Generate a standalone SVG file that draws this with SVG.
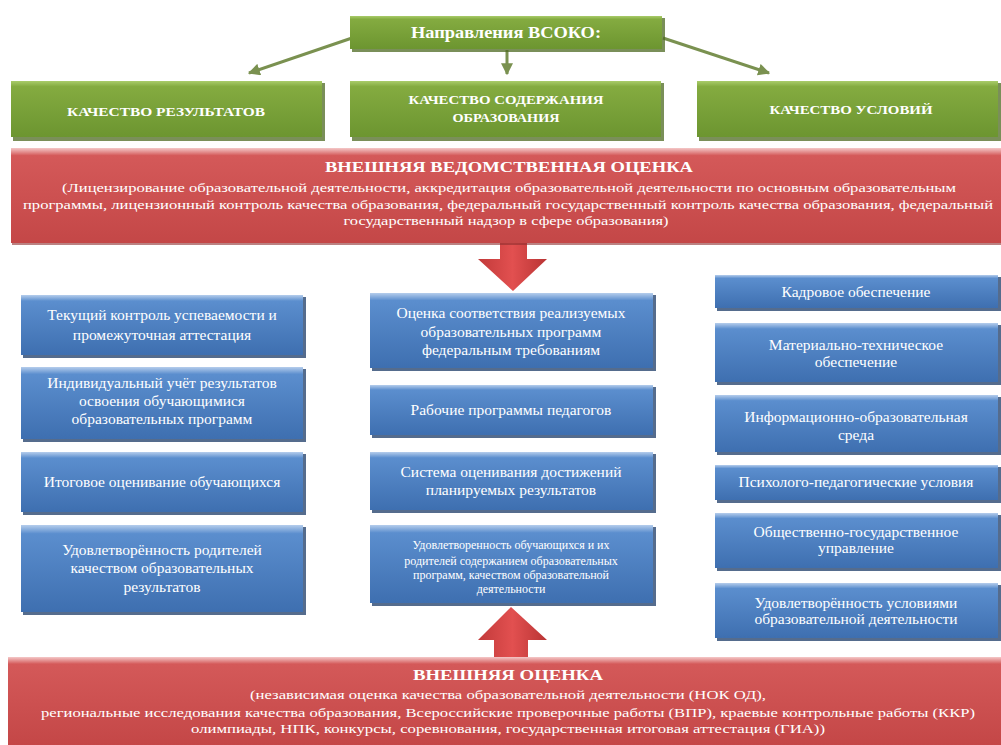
<svg xmlns="http://www.w3.org/2000/svg" width="1001" height="745" viewBox="0 0 1001 745">
<defs>
<linearGradient id="gGreen" x1="0" y1="0" x2="0" y2="1">
<stop offset="0" stop-color="#a9cc6a"/><stop offset="0.1" stop-color="#84ab40"/><stop offset="1" stop-color="#6c9530"/>
</linearGradient>
<linearGradient id="gBlue" x1="0" y1="0" x2="0" y2="1">
<stop offset="0" stop-color="#b5cdec"/><stop offset="0.1" stop-color="#5b8ece"/><stop offset="1" stop-color="#3e6fb0"/>
</linearGradient>
<linearGradient id="gRed" x1="0" y1="0" x2="0" y2="1">
<stop offset="0" stop-color="#f4c8c8"/><stop offset="0.08" stop-color="#d45959"/><stop offset="1" stop-color="#c44747"/>
</linearGradient>
<linearGradient id="gArrow" x1="0" y1="0" x2="1" y2="0">
<stop offset="0" stop-color="#c23a3a"/><stop offset="0.5" stop-color="#e25050"/><stop offset="1" stop-color="#b93434"/>
</linearGradient>
<marker id="ah" viewBox="0 0 10 10" refX="9" refY="5" markerWidth="4" markerHeight="4" orient="auto">
<path d="M0,0 L10,5 L0,10 z" fill="#7a9150"/>
</marker>
</defs>
<style>
.gshadow{fill:#4d6a22;opacity:0.75}
.bshadow{fill:#2a4770;opacity:0.8}
.rshadow{fill:#8e2e2e;opacity:0.6}
.green{fill:url(#gGreen)}
.blue{fill:url(#gBlue)}
.red{fill:url(#gRed)}
.conn{stroke:#7a9150;stroke-width:3;fill:none;marker-end:url(#ah)}
.gt{font-size:12px;font-weight:bold}
.ht{font-size:16px;font-weight:bold}
.rt{font-size:14px;font-weight:bold}
.rb{font-size:12px}
.bt{font-size:15.5px}
.bs{font-size:12px}
</style>
<rect width="1001" height="745" fill="#ffffff"/>

<g id="connectors">
<line class="conn" x1="352" y1="38" x2="249" y2="73"/>
<line class="conn" x1="507" y1="50" x2="507" y2="74"/>
<line class="conn" x1="663" y1="38" x2="769" y2="73"/>
<path d="M500,240 L527,240 L527,259 L547,259 L513,291 L478,259 L500,259 Z" fill="url(#gArrow)"/>
<path d="M494,660 L528,660 L528,640 L547,640 L511,607 L478,640 L494,640 Z" fill="url(#gArrow)"/>
</g>

<g font-family="'Liberation Serif', 'DejaVu Serif', serif" fill="#ffffff" text-anchor="middle">
<g id="n-top">
<rect class="gshadow" x="352" y="18" width="313" height="34"/>
<rect class="green" x="350" y="16" width="312" height="33"/>
<text class="ht" x="506" y="38" textLength="190" lengthAdjust="spacingAndGlyphs">Направления ВСОКО:</text>
</g>

<g id="n-res">
<rect class="gshadow" x="13" y="83" width="312" height="58"/>
<rect class="green" x="11" y="81" width="311" height="56"/>
<text class="gt" x="166" y="116" textLength="198" lengthAdjust="spacingAndGlyphs">КАЧЕСТВО РЕЗУЛЬТАТОВ</text>
</g>
<g id="n-content">
<rect class="gshadow" x="352" y="83" width="312" height="58"/>
<rect class="green" x="350" y="81" width="311" height="56"/>
<text class="gt" x="506" y="104" textLength="195" lengthAdjust="spacingAndGlyphs">КАЧЕСТВО СОДЕРЖАНИЯ</text>
<text class="gt" x="506" y="122" textLength="107" lengthAdjust="spacingAndGlyphs">ОБРАЗОВАНИЯ</text>
</g>
<g id="n-cond">
<rect class="gshadow" x="699" y="83" width="302" height="58"/>
<rect class="green" x="697" y="81" width="301" height="56"/>
<text class="gt" x="851" y="114" textLength="163" lengthAdjust="spacingAndGlyphs">КАЧЕСТВО УСЛОВИЙ</text>
</g>

<g id="n-ext-dept">
<rect class="rshadow" x="12" y="150" width="989" height="95"/>
<rect class="red" x="11" y="148" width="990" height="95"/>
<text class="rt" x="509" y="172" textLength="368" lengthAdjust="spacingAndGlyphs">ВНЕШНЯЯ ВЕДОМСТВЕННАЯ ОЦЕНКА</text>
<text class="rb" x="509" y="192" textLength="894" lengthAdjust="spacingAndGlyphs">(Лицензирование образовательной деятельности, аккредитация образовательной деятельности по основным образовательным</text>
<text class="rb" x="508" y="209" textLength="970" lengthAdjust="spacingAndGlyphs">программы, лицензионный контроль качества образования, федеральный государственный контроль качества образования, федеральный</text>
<text class="rb" x="506" y="225" textLength="325" lengthAdjust="spacingAndGlyphs">государственный надзор в сфере образования)</text>
</g>

<g id="l1">
<rect class="bshadow" x="23" y="297" width="283" height="61"/>
<rect class="blue" x="21" y="295" width="282" height="60"/>
<text class="bt" x="162" y="320">Текущий контроль успеваемости и</text>
<text class="bt" x="162" y="340">промежуточная аттестация</text>
</g>
<g id="l2">
<rect class="bshadow" x="23" y="369" width="283" height="73"/>
<rect class="blue" x="21" y="367" width="282" height="72"/>
<text class="bt" x="162" y="388">Индивидуальный учёт результатов</text>
<text class="bt" x="162" y="406">освоения обучающимися</text>
<text class="bt" x="162" y="424">образовательных программ</text>
</g>
<g id="l3">
<rect class="bshadow" x="23" y="454" width="283" height="61"/>
<rect class="blue" x="21" y="452" width="282" height="60"/>
<text class="bt" x="162" y="487">Итоговое оценивание обучающихся</text>
</g>
<g id="l4">
<rect class="bshadow" x="23" y="527" width="283" height="88"/>
<rect class="blue" x="21" y="525" width="282" height="87"/>
<text class="bt" x="162" y="555">Удовлетворённость родителей</text>
<text class="bt" x="162" y="573">качеством образовательных</text>
<text class="bt" x="162" y="592">результатов</text>
</g>

<g id="m1">
<rect class="bshadow" x="372" y="295" width="284" height="76"/>
<rect class="blue" x="370" y="293" width="283" height="75"/>
<text class="bt" x="511" y="318">Оценка соответствия реализуемых</text>
<text class="bt" x="511" y="337">образовательных программ</text>
<text class="bt" x="511" y="355">федеральным требованиям</text>
</g>
<g id="m2">
<rect class="bshadow" x="372" y="387" width="284" height="51"/>
<rect class="blue" x="370" y="385" width="283" height="50"/>
<text class="bt" x="511" y="415">Рабочие программы педагогов</text>
</g>
<g id="m3">
<rect class="bshadow" x="372" y="454" width="284" height="59"/>
<rect class="blue" x="370" y="452" width="283" height="58"/>
<text class="bt" x="511" y="477">Система оценивания достижений</text>
<text class="bt" x="511" y="495">планируемых результатов</text>
</g>
<g id="m4">
<rect class="bshadow" x="372" y="527" width="284" height="79"/>
<rect class="blue" x="370" y="525" width="283" height="78"/>
<text class="bs" x="511" y="549">Удовлетворенность обучающихся и их</text>
<text class="bs" x="511" y="565">родителей содержанием образовательных</text>
<text class="bs" x="511" y="579">программ, качеством образовательной</text>
<text class="bs" x="511" y="593">деятельности</text>
</g>

<g id="r1">
<rect class="bshadow" x="717" y="277" width="284" height="34"/>
<rect class="blue" x="715" y="275" width="283" height="33"/>
<text class="bt" x="856" y="297">Кадровое обеспечение</text>
</g>
<g id="r2">
<rect class="bshadow" x="717" y="325" width="284" height="60"/>
<rect class="blue" x="715" y="323" width="283" height="59"/>
<text class="bt" x="856" y="350">Материально-техническое</text>
<text class="bt" x="856" y="367">обеспечение</text>
</g>
<g id="r3">
<rect class="bshadow" x="717" y="397" width="284" height="58"/>
<rect class="blue" x="715" y="395" width="283" height="57"/>
<text class="bt" x="856" y="422">Информационно-образовательная</text>
<text class="bt" x="856" y="440">среда</text>
</g>
<g id="r4">
<rect class="bshadow" x="717" y="467" width="284" height="36"/>
<rect class="blue" x="715" y="465" width="283" height="35"/>
<text class="bt" x="856" y="487">Психолого-педагогические условия</text>
</g>
<g id="r5">
<rect class="bshadow" x="717" y="515" width="284" height="56"/>
<rect class="blue" x="715" y="513" width="283" height="55"/>
<text class="bt" x="856" y="537">Общественно-государственное</text>
<text class="bt" x="856" y="553">управление</text>
</g>
<g id="r6">
<rect class="bshadow" x="717" y="585" width="284" height="56"/>
<rect class="blue" x="715" y="583" width="283" height="55"/>
<text class="bt" x="856" y="608">Удовлетворённость условиями</text>
<text class="bt" x="856" y="624">образовательной деятельности</text>
</g>

<g id="n-ext">
<rect class="red" x="8" y="657" width="993" height="88"/>
<text class="rt" x="508" y="680" textLength="190" lengthAdjust="spacingAndGlyphs">ВНЕШНЯЯ ОЦЕНКА</text>
<text class="rb" x="508" y="699" textLength="516" lengthAdjust="spacingAndGlyphs">(независимая оценка качества образовательной деятельности (НОК ОД),</text>
<text class="rb" x="508" y="717" textLength="934" lengthAdjust="spacingAndGlyphs">региональные исследования качества образования, Всероссийские проверочные работы (ВПР), краевые контрольные работы (ККР)</text>
<text class="rb" x="508" y="733" textLength="634" lengthAdjust="spacingAndGlyphs">олимпиады, НПК, конкурсы, соревнования, государственная итоговая аттестация (ГИА))</text>
</g>
</g>
</svg>
